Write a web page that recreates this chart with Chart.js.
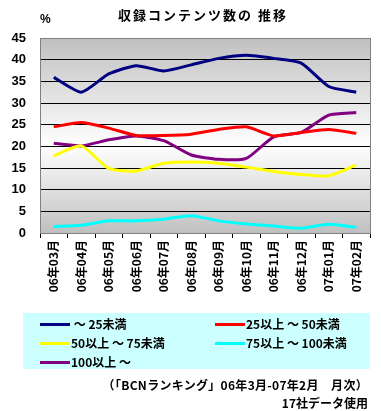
<!DOCTYPE html>
<html><head><meta charset="utf-8">
<script src="https://cdn.jsdelivr.net/npm/chart.js@4"></script>
<style>
body{margin:0;background:#fff;}
#wrap{position:relative;width:381px;height:411px;overflow:hidden;font-family:"Noto Sans CJK JP",sans-serif;font-weight:bold;color:#000;}
canvas{position:absolute;left:0;top:0;}
.abs{position:absolute;white-space:nowrap;}
#legend{position:absolute;left:23px;top:313px;width:347px;height:56px;background:#ccffff;}
.item{position:absolute;font-size:12px;line-height:14px;height:14px;}
.item span.ln{display:inline-block;width:30px;height:3px;vertical-align:middle;margin-right:1px;position:relative;top:-1px;}
</style></head><body>
<div id="wrap">
<canvas id="c" width="381" height="411"></canvas>
<div class="abs" style="left:118px;top:5px;font-size:13px;letter-spacing:2px;">収録コンテンツ数の 推移</div>
<div class="abs" style="left:40px;top:12px;font-size:12px;font-family:'Liberation Sans',sans-serif;">%</div>
<div id="legend"></div>
<div class="abs" style="right:13px;top:376px;font-size:12px;letter-spacing:0.3px;">（「BCNランキング」06年3月-07年2月　月次）</div>
<div class="abs" style="right:13px;top:394px;font-size:12px;">17社データ使用</div>
</div>
<script>
const categories = ["06年03月","06年04月","06年05月","06年06月","06年07月","06年08月","06年09月","06年10月","06年11月","06年12月","07年01月","07年02月"];
const seriesNames = ["～ 25未満","25以上 ～ 50未満","50以上 ～ 75未満","75以上 ～ 100未満","100以上 ～"];
const seriesColors = ["#000080","#ff0000","#ffff00","#00ffff","#800080"];
const under25 = [35.9,32.5,36.7,38.6,37.4,38.8,40.3,41.0,40.3,39.2,33.8,32.5];
const from25to50 = [24.5,25.5,24.2,22.5,22.5,22.8,23.9,24.5,22.4,23.2,23.9,23.0];
const from50to75 = [17.8,20.1,14.9,14.3,16.1,16.4,16.1,15.2,14.2,13.5,13.2,15.7];
const from75to100 = [1.5,1.8,2.8,2.8,3.2,4.0,2.8,2.1,1.6,1.1,2.0,1.3];
const over100 = [20.7,20.1,21.5,22.4,21.3,18.0,17.0,17.2,22.2,23.2,27.2,27.8];
const yTicks = [0,5,10,15,20,25,30,35,40,45];
const seriesData = [under25,from25to50,from50to75,from75to100,over100];

// HTML legend
const legendPos = [[17,4],[192,4],[17,23],[192,23],[17,42]];
const leg = document.getElementById('legend');
seriesNames.forEach((n,i)=>{
  const d=document.createElement('div');
  d.className='item';
  d.style.left=legendPos[i][0]+'px';
  d.style.top=legendPos[i][1]+'px';
  d.innerHTML='<span class="ln" style="background:'+seriesColors[i]+'"></span>'+(i===0?'&nbsp;':'')+n;
  leg.appendChild(d);
});

const bgPlugin = {
  id:'bg',
  beforeDraw(chart){
    const {ctx, chartArea:a} = chart;
    const g = ctx.createLinearGradient(0,a.top,0,a.bottom);
    g.addColorStop(0,'#c0c0c0');
    g.addColorStop(0.55,'#ffffff');
    g.addColorStop(1,'#c0c0c0');
    ctx.save();
    ctx.fillStyle=g;
    ctx.fillRect(a.left,a.top,a.right-a.left,a.bottom-a.top);
    ctx.restore();
  },
  afterDraw(chart){
    const {ctx, chartArea:a} = chart;
    ctx.save();
    ctx.strokeStyle='#808080';
    ctx.lineWidth=1;
    ctx.strokeRect(a.left+0.5,a.top+0.5,a.right-a.left,a.bottom-a.top);
    ctx.restore();
  }
};

new Chart(document.getElementById('c'),{
  type:'line',
  data:{
    labels:categories,
    datasets:seriesData.map((d,i)=>({
      label:seriesNames[i],
      data:d,
      borderColor:seriesColors[i],
      backgroundColor:seriesColors[i],
      borderWidth:3,
      pointRadius:0,
      tension:0.2,
      fill:false
    }))
  },
  options:{
    responsive:false,
    animation:false,
    devicePixelRatio:1,
    layout:{padding:{left:0,right:11,top:38,bottom:108}},
    plugins:{legend:{display:false},title:{display:false},tooltip:{enabled:false}},
    scales:{
      x:{
        offset:true,
        afterFit(s){s.height=70;},
        grid:{drawOnChartArea:false,drawTicks:true,tickLength:5,color:'#000',offset:true},
        border:{color:'#000'},
        ticks:{color:'#000',minRotation:90,maxRotation:90,padding:2,autoSkip:false,
          font:{family:'"Noto Sans CJK JP", sans-serif',size:12,weight:'bold'}}
      },
      y:{
        min:0,max:45,
        afterFit(s){s.width=40;},
        afterBuildTicks(s){s.ticks=yTicks.map(v=>({value:v}));},
        grid:{color:'#000',drawTicks:false},
        border:{display:false},
        ticks:{color:'#000',padding:14,
          font:{family:'"Liberation Sans", Arial, sans-serif',size:13,weight:'bold'}}
      }
    }
  },
  plugins:[bgPlugin]
});
</script>
</body></html>
